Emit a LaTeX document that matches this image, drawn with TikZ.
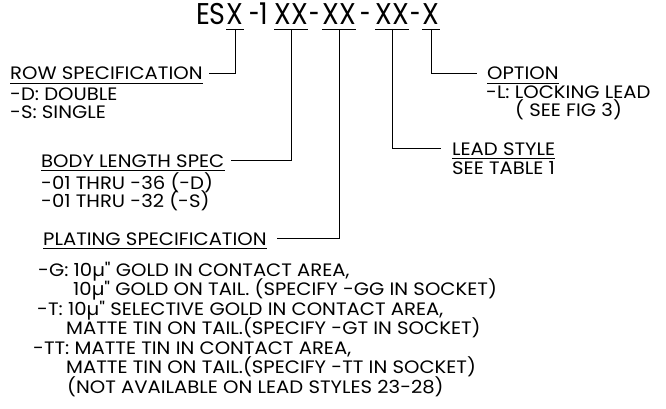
\documentclass[tikz,border=0pt]{standalone}
\usepackage{fontspec}
\usetikzlibrary{calc}
\newfontfamily\cg{Poppins}[FakeStretch=1.09]
\newfontfamily\cgt{Poppins}[FakeStretch=0.9]
\newcommand{\tdash}{\scalebox{0.7}[1]{-}}
\begin{document}
\begin{tikzpicture}[x=1pt,y=-1pt,
  lbl/.style={font=\cg\fontsize{18}{22}\selectfont, inner sep=0pt, anchor=base west},
  ttl/.style={font=\cgt\fontsize{30}{36}\selectfont, inner sep=0pt, anchor=base},
  conn/.style={line width=0.9pt},
  uline/.style={line width=0.9pt}]
\useasboundingbox (0,0) rectangle (666,409);
% title
\node[ttl] (tX1) at (235,25) {X};
\node[ttl] (tX2) at (291,25) {XX};
\node[ttl] (tX3) at (339,25) {XX};
\node[ttl] (tX4) at (392,25) {XX};
\node[ttl] (tX5) at (431,25) {X};
\node[ttl, anchor=base east] (tES) at ([xshift=-0.5pt]tX1.base west) {ES};
\node[ttl] (tD1) at ($(tX1.base east)!0.5!(tX2.base west)$) {\tdash 1};
\node[ttl] (tD2) at ($(tX2.base east)!0.5!(tX3.base west)$) {\tdash};
\node[ttl] (tD3) at ($(tX3.base east)!0.5!(tX4.base west)$) {\tdash};
\node[ttl] (tD4) at ($(tX4.base east)!0.5!(tX5.base west)$) {\tdash};
\foreach \n in {tX1,tX2,tX3,tX4,tX5}
  \draw[uline] ([yshift=-4pt]\n.base west) -- ([yshift=-4pt]\n.base east);
% left labels
\node[lbl] (row) at (10,80) {ROW SPECIFICATION};
\node[lbl] (rowD) at (10,101) {-D: DOUBLE};
\node[lbl] (rowS) at (10,119) {-S: SINGLE};
\node[lbl] (body) at (41,167) {BODY LENGTH SPEC};
\node[lbl] (bodyD) at (41,189) {-01 THRU -36 (-D)};
\node[lbl] (bodyS) at (41,207) {-01 THRU -32 (-S)};
\node[lbl] (plat) at (43,245) {PLATING SPECIFICATION};
\node[lbl] (pg1) at (38,276) {-G: 10µ" GOLD IN CONTACT AREA,};
\node[lbl] (pg2) at (73,295.5) {10µ" GOLD ON TAIL. (SPECIFY -GG IN SOCKET)};
\node[lbl] (pt1) at (37,315) {-T: 10µ" SELECTIVE GOLD IN CONTACT AREA,};
\node[lbl] (pt2) at (66,334.5) {MATTE TIN ON TAIL.(SPECIFY -GT IN SOCKET)};
\node[lbl] (ptt1) at (33,354) {-TT: MATTE TIN IN CONTACT AREA,};
\node[lbl] (ptt2) at (66,373.5) {MATTE TIN ON TAIL.(SPECIFY -TT IN SOCKET)};
\node[lbl] (pna) at (67,393) {(NOT AVAILABLE ON LEAD STYLES 23-28)};
% right labels
\node[lbl] (opt) at (487,80) {OPTION};
\node[lbl] (optL) at (486,99) {-L: LOCKING LEAD};
\node[lbl] (optF) at (515,117) {( SEE FIG 3)};
\node[lbl] (lead) at (452,155) {LEAD STYLE};
\node[lbl] (leadT) at (452,174) {SEE TABLE 1};
% underlines
\foreach \n in {row,body,plat,opt,lead}
  \draw[uline] ([yshift=-3pt]\n.base west) -- ([yshift=-3pt]\n.base east);
% connectors
\draw[conn] ([yshift=-4pt]tX1.base) |- ([xshift=6pt]row.east);
\draw[conn] ([yshift=-4pt]tX2.base) |- ([xshift=6pt]body.east);
\draw[conn] ([yshift=-4pt]tX3.base) |- ([xshift=10pt]plat.east);
\draw[conn] ([yshift=-4pt]tX4.base) |- ([xshift=-11pt]lead.west);
\draw[conn] ([yshift=-4pt]tX5.base) |- ([xshift=-10pt]opt.west);
\end{tikzpicture}
\end{document}
